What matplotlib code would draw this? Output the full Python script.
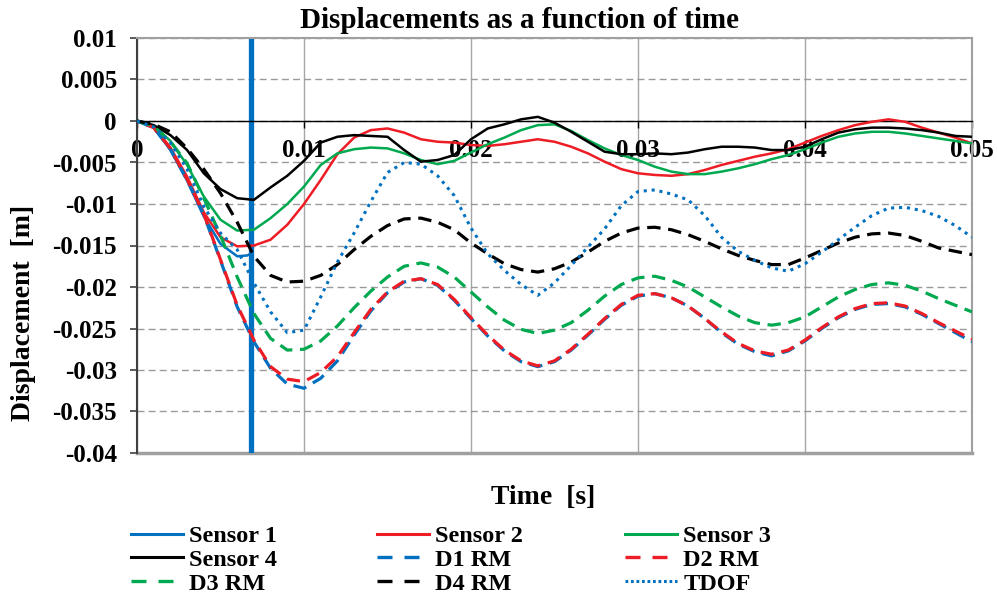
import matplotlib
matplotlib.use("Agg")
import matplotlib.pyplot as plt
from matplotlib.ticker import FuncFormatter, MultipleLocator
from matplotlib.lines import Line2D

plt.rcParams['font.family'] = ['Liberation Serif', 'DejaVu Serif']
plt.rcParams['font.weight'] = 'bold'
plt.rcParams['axes.unicode_minus'] = False

# ---------------- data ----------------
time_s = [0.000, 0.001, 0.002, 0.003, 0.004, 0.005, 0.006, 0.007, 0.008, 0.009,
          0.010, 0.011, 0.012, 0.013, 0.014, 0.015, 0.016, 0.017, 0.018, 0.019,
          0.020, 0.021, 0.022, 0.023, 0.024, 0.025, 0.026, 0.027, 0.028, 0.029,
          0.030, 0.031, 0.032, 0.033, 0.034, 0.035, 0.036, 0.037, 0.038, 0.039,
          0.040, 0.041, 0.042, 0.043, 0.044, 0.045, 0.046, 0.047, 0.048, 0.049,
          0.050]

sensor1_time = [0.000, 0.001, 0.002, 0.003, 0.004, 0.005, 0.006, 0.0066, 0.0068]
sensor1 = [0.0, -0.0008, -0.0035, -0.0072, -0.0115, -0.0148, -0.0163, -0.0162, -0.0160]
sensor1_failure_time = 0.0068

sensor2 = [0.0, -0.0007, -0.0032, -0.0067, -0.0110, -0.0140, -0.0151, -0.0150, -0.0143, -0.0125,
           -0.0100, -0.0071, -0.0040, -0.0020, -0.0011, -0.0009, -0.0014, -0.0022, -0.0025, -0.0026,
           -0.0029, -0.0030, -0.0028, -0.0025, -0.0022, -0.0025, -0.0031, -0.0039, -0.0049, -0.0058,
           -0.0063, -0.0065, -0.0066, -0.0064, -0.0059, -0.0053, -0.0048, -0.0043, -0.0039, -0.0034,
           -0.0026, -0.0018, -0.0011, -0.0005, -0.0001, 0.0002, -0.0001, -0.0008, -0.0014, -0.0020,
           -0.0027]

sensor3 = [0.0, -0.0006, -0.0024, -0.0053, -0.0091, -0.0119, -0.0132, -0.0131, -0.0117, -0.0100,
           -0.0079, -0.0053, -0.0039, -0.0034, -0.0032, -0.0033, -0.0039, -0.0047, -0.0052, -0.0048,
           -0.0038, -0.0028, -0.0020, -0.0011, -0.0005, -0.0004, -0.0012, -0.0023, -0.0033, -0.0041,
           -0.0047, -0.0055, -0.0061, -0.0064, -0.0064, -0.0061, -0.0057, -0.0052, -0.0046, -0.0041,
           -0.0034, -0.0026, -0.0019, -0.0015, -0.0013, -0.0013, -0.0015, -0.0018, -0.0021, -0.0024,
           -0.0027]

sensor4 = [0.0, -0.0005, -0.0017, -0.0035, -0.0063, -0.0082, -0.0093, -0.0095, -0.0080, -0.0066,
           -0.0048, -0.0026, -0.0019, -0.0017, -0.0018, -0.0019, -0.0035, -0.0049, -0.0047, -0.0041,
           -0.0022, -0.0009, -0.0004, 0.0002, 0.0005, -0.0002, -0.0013, -0.0025, -0.0037, -0.0040,
           -0.0040, -0.0039, -0.0040, -0.0038, -0.0034, -0.0031, -0.0031, -0.0032, -0.0035, -0.0035,
           -0.0031, -0.0022, -0.0014, -0.0010, -0.0008, -0.0008, -0.0009, -0.0011, -0.0014, -0.0018,
           -0.0019]

d1_rm = [0.0, -0.0008, -0.0034, -0.0071, -0.0113, -0.0168, -0.0224, -0.0266, -0.0298, -0.0317,
         -0.0322, -0.0310, -0.0289, -0.0258, -0.0229, -0.0207, -0.0194, -0.0190, -0.0198, -0.0216,
         -0.0238, -0.0259, -0.0277, -0.0290, -0.0296, -0.0290, -0.0276, -0.0258, -0.0239, -0.0222,
         -0.0211, -0.0208, -0.0213, -0.0223, -0.0238, -0.0255, -0.0269, -0.0278, -0.0283, -0.0277,
         -0.0265, -0.0250, -0.0237, -0.0227, -0.0221, -0.0220, -0.0224, -0.0233, -0.0244, -0.0255,
         -0.0266]

d2_rm = [0.0, -0.0008, -0.0033, -0.0070, -0.0112, -0.0167, -0.0222, -0.0264, -0.0296, -0.0311,
         -0.0314, -0.0303, -0.0284, -0.0255, -0.0227, -0.0206, -0.0193, -0.0190, -0.0197, -0.0215,
         -0.0237, -0.0258, -0.0276, -0.0289, -0.0295, -0.0289, -0.0275, -0.0257, -0.0238, -0.0221,
         -0.0210, -0.0208, -0.0213, -0.0223, -0.0238, -0.0254, -0.0268, -0.0277, -0.0281, -0.0276,
         -0.0264, -0.0249, -0.0236, -0.0226, -0.0220, -0.0219, -0.0223, -0.0232, -0.0243, -0.0253,
         -0.0263]

d3_rm = [0.0, -0.0006, -0.0025, -0.0051, -0.0093, -0.0138, -0.0188, -0.0232, -0.0262, -0.0276,
         -0.0275, -0.0265, -0.0247, -0.0225, -0.0205, -0.0188, -0.0175, -0.0171, -0.0176, -0.0188,
         -0.0206, -0.0224, -0.0240, -0.0251, -0.0256, -0.0252, -0.0243, -0.0228, -0.0211, -0.0197,
         -0.0189, -0.0187, -0.0192, -0.0200, -0.0212, -0.0224, -0.0235, -0.0243, -0.0246, -0.0243,
         -0.0236, -0.0224, -0.0212, -0.0203, -0.0197, -0.0195, -0.0198, -0.0205, -0.0214, -0.0222,
         -0.0230]

d4_rm = [0.0, -0.0004, -0.0013, -0.0033, -0.0058, -0.0087, -0.0122, -0.0163, -0.0186, -0.0194,
         -0.0193, -0.0186, -0.0173, -0.0155, -0.0139, -0.0126, -0.0118, -0.0117, -0.0122, -0.0131,
         -0.0147, -0.0160, -0.0172, -0.0179, -0.0182, -0.0178, -0.0170, -0.0158, -0.0145, -0.0135,
         -0.0129, -0.0128, -0.0131, -0.0137, -0.0145, -0.0154, -0.0162, -0.0168, -0.0173, -0.0173,
         -0.0165, -0.0156, -0.0147, -0.0140, -0.0136, -0.0135, -0.0138, -0.0145, -0.0153, -0.0157,
         -0.0161]

tdof = [0.0, -0.0007, -0.0026, -0.0058, -0.0103, -0.0135, -0.0155, -0.0195, -0.0230, -0.0255,
        -0.0252, -0.0212, -0.0170, -0.0135, -0.0097, -0.0062, -0.0050, -0.0052, -0.0066, -0.0090,
        -0.0129, -0.0160, -0.0180, -0.0197, -0.0210, -0.0195, -0.0174, -0.0152, -0.0130, -0.0102,
        -0.0085, -0.0083, -0.0088, -0.0095, -0.0114, -0.0140, -0.0157, -0.0168, -0.0177, -0.0181,
        -0.0172, -0.0158, -0.0143, -0.0128, -0.0114, -0.0105, -0.0104, -0.0108, -0.0115, -0.0126,
        -0.0140]

x_ticks = [0, 0.01, 0.02, 0.03, 0.04, 0.05]
x_tick_labels = ["0", "0.01", "0.02", "0.03", "0.04", "0.05"]

# ---------------- styles ----------------
BLUE = '#0070C0'
RED = '#EE1C25'
GREEN = '#00A94F'
BLACK = '#000000'
SOLID_LW = 1.8
DASH_LW = 2.3
DASH = (0, (4.2, 2.4))
LEG_DASH = (0, (4.5, 3.6))

fig = plt.figure(figsize=(9.97, 6.0), dpi=100)
ax = fig.add_axes([137 / 997, 1 - 453 / 600, 835 / 997, 415 / 600])

ax.set_xlim(0, 0.05)
ax.set_ylim(-0.04, 0.01)

# grid
ax.yaxis.set_major_locator(MultipleLocator(0.005))
ax.set_xticks(x_ticks)
ax.set_xticklabels(x_tick_labels)
ax.grid(axis='y', color='#9A9A9A', linestyle=(0, (5, 3)), linewidth=1.0, zorder=0)
ax.grid(axis='x', color='#A6A6A6', linestyle='-', linewidth=1.0, zorder=0)
ax.set_axisbelow(True)

# series
ax.plot(sensor1_time, sensor1, color=BLUE, lw=SOLID_LW, zorder=2)
ax.axvline(sensor1_failure_time, color=BLUE, lw=3.8, zorder=2)
ax.plot(time_s, sensor2, color=RED, lw=SOLID_LW, zorder=3)
ax.plot(time_s, sensor3, color=GREEN, lw=SOLID_LW, zorder=3)
ax.plot(time_s, sensor4, color=BLACK, lw=SOLID_LW, zorder=3)
ax.plot(time_s, d1_rm, color=BLUE, lw=DASH_LW, linestyle=DASH, zorder=4)
ax.plot(time_s, d2_rm, color=RED, lw=DASH_LW, linestyle=(3.3, (4.2, 2.4)), zorder=4)
ax.plot(time_s, d3_rm, color=GREEN, lw=DASH_LW, linestyle=DASH, zorder=4)
ax.plot(time_s, d4_rm, color=BLACK, lw=DASH_LW, linestyle=DASH, zorder=4)
ax.plot(time_s, tdof, color=BLUE, lw=2.2, linestyle=(0, (1.0, 1.6)), zorder=4)

# legend proxies
def proxy(color, ls, lw):
    return Line2D([], [], color=color, linestyle=ls, lw=lw)

h = {
    'Sensor 1': proxy(BLUE, '-', 2.2),
    'Sensor 2': proxy(RED, '-', 2.2),
    'Sensor 3': proxy(GREEN, '-', 2.2),
    'Sensor 4': proxy(BLACK, '-', 2.2),
    'D1 RM': proxy(BLUE, LEG_DASH, 2.4),
    'D2 RM': proxy(RED, LEG_DASH, 2.4),
    'D3 RM': proxy(GREEN, LEG_DASH, 2.4),
    'D4 RM': proxy(BLACK, LEG_DASH, 2.4),
    'TDOF': proxy(BLUE, (0, (0.9, 0.9)), 2.2),
}

# spines / axes
ax.spines['bottom'].set_position(('data', 0))
ax.spines['bottom'].set_color('black')
ax.spines['bottom'].set_linewidth(1.0)
ax.spines['bottom'].set_zorder(2.5)
for s in ('top', 'right'):
    ax.spines[s].set_color('#A0A0A0')
    ax.spines[s].set_linewidth(1.5)
ax.spines['left'].set_color('#404040')
ax.spines['left'].set_linewidth(1.5)
ax.axhline(ax.get_ylim()[0], color='#A0A0A0', lw=2.5, zorder=1, clip_on=False)

ax.yaxis.set_major_formatter(FuncFormatter(lambda v, p: ('%g' % round(v, 4)) if abs(v) > 1e-12 else '0'))
ax.tick_params(axis='y', direction='out', length=5, width=1.2, color='#404040',
               labelsize=18, pad=9.5)
ax.tick_params(axis='x', direction='out', length=5, width=1.0, color='black',
               labelsize=18, pad=8)
for lab in ax.get_xticklabels() + ax.get_yticklabels():
    lab.set_fontweight('bold')

# texts
fig.text(519 / 997, 1 - 20 / 600, 'Displacements as a function of time', ha='center', va='center',
         fontsize=21, fontweight='bold')
fig.text(24 / 997, 1 - 313 / 600, 'Displacement  [m]', ha='center', va='center', rotation=90,
         fontsize=20, fontweight='bold')
fig.text(543 / 997, 1 - 497 / 600, 'Time  [s]', ha='center', va='center',
         fontsize=20, fontweight='bold')

# legend: three columns, row-wise order
columns = [['Sensor 1', 'Sensor 4', 'D3 RM'],
           ['Sensor 2', 'D1 RM', 'D4 RM'],
           ['Sensor 3', 'D2 RM', 'TDOF']]
col_x = [131, 377, 625]
for labels, xpix in zip(columns, col_x):
    fig.legend(handles=[h[l] for l in labels], labels=labels,
               loc='upper left', bbox_to_anchor=(xpix / 997, 1 - 525 / 600),
               frameon=False, ncol=1, handlelength=2.15, handletextpad=0.25,
               labelspacing=0.08, borderaxespad=0, borderpad=0,
               prop={'family': 'Liberation Serif', 'weight': 'bold', 'size': 17.5})

fig.savefig('out.png', dpi=100)
